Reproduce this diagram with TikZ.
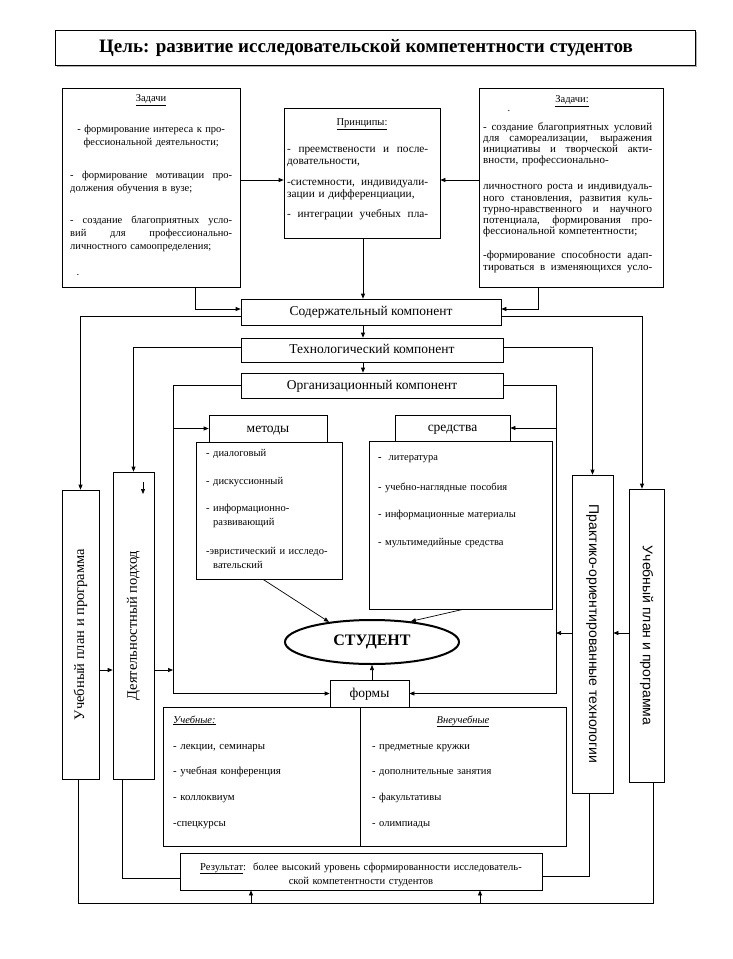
\documentclass[tikz,border=0pt]{standalone}
\usepackage{fontspec}
\setmainfont{Liberation Serif}
\newfontfamily\sansf{Liberation Sans}
\usetikzlibrary{arrows.meta,shapes.geometric}
\newcommand\JL[1]{{\spaceskip=\fontdimen2\font plus 1fil\relax\xspaceskip=\fontdimen2\font plus 1fil\relax\makebox[\linewidth][s]{#1}}}
\newcommand\CL[1]{\makebox[\linewidth][c]{#1}}
\begin{document}
\begin{tikzpicture}[x=1pt,y=-1pt,
  box/.style={draw, line width=0.7pt, inner sep=0pt},
  txt/.style={inner sep=0pt, align=left},
  arr/.style={-{Triangle[length=5pt,width=4pt]}, line width=0.7pt},
  ln/.style={line width=0.7pt},
  comp/.style={font=\fontsize{13.5}{16}\selectfont, text height=9.2pt, text depth=2pt},
  small/.style={font=\fontsize{10.5}{12}\selectfont}]
\fill[white] (0,0) rectangle (733,959);
\useasboundingbox (0,0) rectangle (733,959);

% title
\node[box, minimum width=640, minimum height=35] (title) at (375,47.5) {};
\draw[gray!60, line width=1.6pt] ([xshift=2pt,yshift=-1.3pt]title.south west) -- ([xshift=1.3pt,yshift=-1.3pt]title.south east) -- ([xshift=1.3pt,yshift=-2pt]title.north east);
\node[inner sep=0pt, font=\fontsize{19}{21}\selectfont\bfseries] (titletxt) at (366,48) {Цель: развитие исследовательской компетентности студентов};

% left tasks
\node[box, minimum width=178, minimum height=199] (lt) at (151,187.5) {};
\node[small] (lth) at (151,100) {\underline{Задачи}};
\node[txt, text width=162, anchor=base west, font=\fontsize{10.5}{13}\selectfont] (ltb) at (70,132)
 {\CL{- формирование интереса к про-}\\
  \CL{фессиональной деятельности;}\\[20pt]
  \JL{- формирование мотивации про-}\\
  должения обучения в вузе;\\[19pt]
  \JL{- создание благоприятных усло-}\\
  \JL{вий для профессионально-}\\
  личностного самоопределения;};
\node[small] (ltd) at (78,275) {.};

% principles
\node[box, minimum width=156, minimum height=130] (pr) at (362,173) {};
\node[small] (prh) at (362,124) {\underline{Принципы:}};
\node[txt, text width=141, anchor=base west, font=\fontsize{11.3}{12.5}\selectfont] (prb) at (287,152)
 {\JL{- преемствености и после-}\\
  довательности,\\[8pt]
  \JL{-системности, индивидуали-}\\
  зации и дифференциации,\\[7pt]
  \JL{- интеграции учебных пла-}};

% right tasks
\node[box, minimum width=184, minimum height=199] (rt) at (571,187.5) {};
\node[small] (rth) at (572,101) {\underline{Задачи:}};
\node[small] (rtd) at (509,111) {.};
\node[txt, text width=169, anchor=base west, font=\fontsize{11}{11.3}\selectfont] (rtb) at (483,130)
 {\JL{- создание благоприятных условий}\\
  \JL{для самореализации, выражения}\\
  \JL{инициативы и творческой акти-}\\
  вности, профессионально-\\[14.5pt]
  \JL{личностного роста и индивидуаль-}\\
  \JL{ного становления, развития куль-}\\
  \JL{турно-нравственного и научного}\\
  \JL{потенциала, формирования про-}\\
  фессиональной компетентности;\\[12.5pt]
  \JL{-формирование способности адап-}\\
  \JL{тироваться в изменяющихся усло-}};

% components
\node[box, comp, minimum width=260, minimum height=26] (soder) at (371,312) {Содержательный компонент};
\node[box, comp, minimum width=262, minimum height=24] (tech) at (372,350) {Технологический компонент};
\node[box, comp, minimum width=262, minimum height=25] (org) at (372,385.5) {Организационный компонент};

% vertical boxes
\node[box, minimum width=37, minimum height=289, font=\fontsize{14.5}{17}\selectfont] (lplan) at (80.5,634.5) {\rotatebox{90}{Учебный план и программа}};
\node[box, minimum width=41, minimum height=307, font=\fontsize{14.5}{17}\selectfont] (deyat) at (133.5,625.5) {\rotatebox{90}{Деятельностный подход}};
\node[box, minimum width=41, minimum height=318, font=\sansf\fontsize{14}{16}\selectfont] (prakt) at (592.5,634) {\rotatebox{-90}{Практико-ориентированные технологии}};
\node[box, minimum width=35, minimum height=293, font=\sansf\fontsize{14}{16}\selectfont] (rplan) at (646.5,635.5) {\rotatebox{-90}{Учебный план и программа}};

% methods
\node[box, minimum width=146, minimum height=137] (mlist) at (269,510.5) {};
\node[box, comp, minimum width=118, minimum height=27] (mtab) at (268,428.5) {методы};
\node[txt, text width=135, anchor=base west, font=\fontsize{10.5}{14}\selectfont] (mlb) at (206,456)
 {- диалоговый\\[14pt]
  - дискуссионный\\[13pt]
  - информационно-\\
  \hspace*{7pt}развивающий\\[15.5pt]
  -эвристический и исследо-\\
  \hspace*{7pt}вательский};

% means
\node[box, minimum width=183, minimum height=168] (slist) at (460.5,525) {};
\node[box, comp, minimum width=115, minimum height=26] (stab) at (452.5,428) {средства};
\node[txt, text width=170, anchor=base west, font=\fontsize{10.5}{14}\selectfont] (slb) at (378,460)
 {\textbf{-}\ \ литература\\[16pt]
  - учебно-наглядные пособия\\[13pt]
  - информационные материалы\\[14pt]
  - мультимедийные средства};

% student
\node[draw, ellipse, line width=2pt, inner sep=0pt, minimum width=174, minimum height=44,
      font=\fontsize{16}{18}\selectfont\bfseries] (student) at (372,642) {СТУДЕНТ};

% forms
\node[box, comp, minimum width=79, minimum height=27] (ftab) at (369.5,693.5) {формы};
\node[box, minimum width=197, minimum height=139] (fl) at (261.5,776.5) {};
\node[box, minimum width=206, minimum height=139] (fr) at (463,776.5) {};
\node[small, inner sep=0pt, anchor=base west] (flh) at (173,723) {\underline{\textit{Учебные:}}};
\node[txt, text width=180, anchor=base west, font=\fontsize{10.8}{25.7}\selectfont] (flb) at (173,749)
 {- лекции, семинары\\ - учебная конференция\\ - коллоквиум\\ -спецкурсы};
\node[small, inner sep=0pt, anchor=base] (frh) at (463,723) {\underline{\textit{Внеучебные}}};
\node[txt, text width=180, anchor=base west, font=\fontsize{10.5}{25.7}\selectfont] (frb) at (372,749)
 {- предметные кружки\\ - дополнительные занятия\\ - факультативы\\ - олимпиады};

% result
\node[box, minimum width=362, minimum height=37] (res) at (361,871.5) {};
\node[txt, text width=362, align=center, anchor=base, font=\fontsize{10.6}{14}\selectfont] (resb) at (361,870)
 {\underline{Результат}:\ \ более высокий уровень сформированности исследователь-\\ской компетентности студентов};

% lane coordinates
\coordinate (fL) at (173,0);
\coordinate (fR) at (556,0);
\coordinate (yP) at (0,180);
\coordinate (yA) at (0,670);
\coordinate (yB) at (0,633);
\coordinate (yC) at (0,903);
\coordinate (xa) at (251,0);
\coordinate (xb) at (480,0);
\coordinate (ltx) at (195,0);
\coordinate (rtx) at (538,0);
\coordinate (axis) at (363,0);
\coordinate (da) at (143,482);
\coordinate (lpb) at ([xshift=-2.5pt]lplan.south);
\coordinate (rpb) at ([xshift=7pt]rplan.south);
\coordinate (rpt) at ([xshift=-4.5pt]rplan.north);
\coordinate (dyb) at ([xshift=-11pt]deyat.south);
\coordinate (pkb) at ([xshift=-3.5pt]prakt.south);

% connectors
\draw[arr] (lt.east |- yP) -- (pr.west |- yP);
\draw[arr] (rt.west |- yP) -- (pr.east |- yP);
\draw[arr] (ltx |- lt.south) |- ([yshift=3pt]soder.west);
\draw[arr] (rtx |- rt.south) |- ([yshift=3pt]soder.east);
\draw[arr] (axis |- pr.south) -- (axis |- soder.north);
\draw[arr] (axis |- soder.south) -- (axis |- tech.north);
\draw[arr] (axis |- tech.south) -- (axis |- org.north);
\draw[arr] ([yshift=-4pt]soder.west) -| (lplan.north);
\draw[arr] ([yshift=-4pt]soder.east) -| (rpt);
\draw[arr] ([yshift=3pt]tech.west) -| (deyat.north);
\draw[arr] ([yshift=3pt]tech.east) -| (prakt.north);
\draw[arr] (org.west) -| (fL |- ftab.west) -- (ftab.west);
\draw[arr] (org.east) -| (fR |- ftab.east) -- (ftab.east);
\draw[arr] (fL |- mtab.west) -- (mtab.west);
\draw[arr] (fR |- stab.east) -- (stab.east);
\draw[arr] (lplan.east |- yA) -- (deyat.west |- yA);
\draw[arr] (deyat.east |- yA) -- (fL |- yA);
\draw[arr] (rplan.west |- yB) -- (prakt.east |- yB);
\draw[arr] (prakt.west |- yB) -- (fR |- yB);
\draw[arr] (da) -- ++(0,12);
\draw[arr] ([xshift=-6pt]mlist.south) -- (student.155);
\draw[arr] ([xshift=2.5pt]slist.south) -- (student.28);
\draw[arr] (student.south |- ftab.north) -- (student.south);
\draw[ln] (lpb) -- (lpb |- yC) -- (rpb |- yC) -- (rpb);
\draw[arr] (xa |- yC) -- (xa |- res.south);
\draw[arr] (xb |- yC) -- (xb |- res.south);
\draw[ln] (dyb) |- ([yshift=-7pt]res.west);
\draw[ln] (pkb) |- ([yshift=-5pt]res.east);
\end{tikzpicture}
\end{document}
